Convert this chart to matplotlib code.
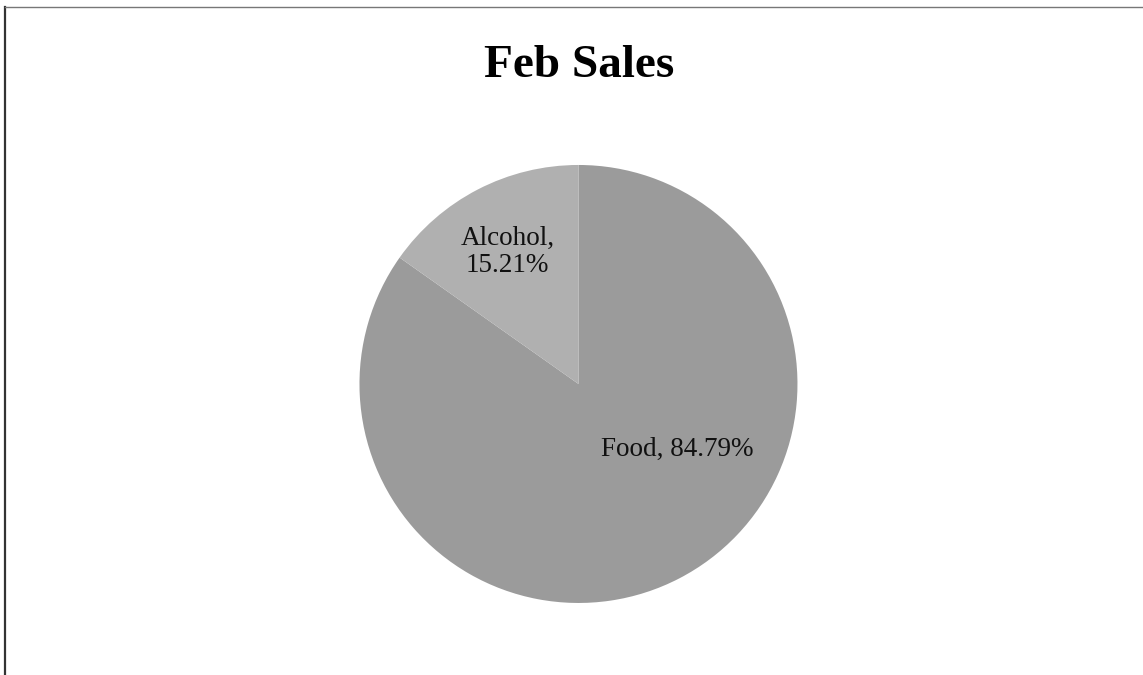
import matplotlib.pyplot as plt
from matplotlib.lines import Line2D

categories = ["Food", "Alcohol"]
shares = [84.79, 15.21]
slice_colors = ["#9b9b9b", "#b0b0b0"]

plt.rcParams['font.family'] = ['Liberation Serif', 'DejaVu Serif']

fig = plt.figure(figsize=(11.43, 6.75), dpi=100)
fig.patch.set_facecolor("white")

# scanned frame: only left and top edges survive
fig.add_artist(Line2D([0.0045, 0.0045], [0.0, 0.99], transform=fig.transFigure,
                      color="#333333", lw=1.6))
fig.add_artist(Line2D([0.0045, 1.0], [0.99, 0.99], transform=fig.transFigure,
                      color="#777777", lw=1.0))

fig.text(0.507, 0.902, "Feb Sales", ha="center", va="center",
         fontsize=34, fontweight="bold")

ax = fig.add_axes([0.3145, 0.1067, 0.3832, 0.6489])
wedges, _ = ax.pie(shares, colors=slice_colors, startangle=90, counterclock=False,
                   wedgeprops=dict(linewidth=0))
ax.set_xlim(-1, 1)
ax.set_ylim(-1, 1)
ax.set_aspect("equal")
ax.axis("off")

# data labels as Excel placed them ("best fit")
label_pos = [(0.452, -0.297), (-0.324, 0.603)]
label_txt = [f"{categories[0]}, {shares[0]:.2f}%",
             f"{categories[1]},\n{shares[1]:.2f}%"]
for (x, y), t in zip(label_pos, label_txt):
    ax.text(x, y, t, ha="center", va="center", fontsize=19.5, linespacing=1.15,
            color="#111111")

plt.savefig("out.png", dpi=100, facecolor="white")
